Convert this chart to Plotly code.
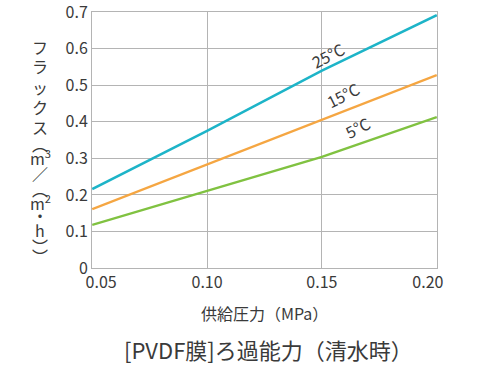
import plotly.graph_objects as go

pressure = [0.05, 0.10, 0.15, 0.20]
flux_25 = [0.216, 0.375, 0.540, 0.692]
flux_15 = [0.161, 0.284, 0.407, 0.528]
flux_5 = [0.118, 0.211, 0.304, 0.413]

series = [("25°C", flux_25, "#1db4c8"), ("15°C", flux_15, "#f5a642"), ("5°C", flux_5, "#80c241")]
label_pos = {"25°C": (0.1526, 0.582), "15°C": (0.159, 0.473), "5°C": (0.1657, 0.386)}

x_ticks = [0.05, 0.10, 0.15, 0.20]
x_tick_text = ["\u2007\u20070.05", "0.10", "0.15", "0.20\u2007\u2007"]
y_ticks = [0, 0.1, 0.2, 0.3, 0.4, 0.5, 0.6, 0.7]
y_tick_text = ["0", "0.1", "0.2", "0.3", "0.4", "0.5", "0.6", "0.7"]

y_title_chars = ["フ", "ラ", "ッ", "ク", "ス", "︵", "m<sup>3</sup>", "／", "︵", "m<sup>2</sup>", "・", "h", "︶", "︶"]
y_title_rows = [47, 66, 87, 107, 127, 144, 157, 173, 189, 202, 215, 230, 246, 256]

font = "Noto Sans CJK JP"
txt = "#3a3a3a"

# screen px -> paper coords (plot area: x 92..437, y 12..268 on screen)
def px(sx):
    return (sx - 92) / 345

def py(sy):
    return (268 - sy) / 256

fig = go.Figure()
for name, vals, col in series:
    fig.add_trace(go.Scatter(x=pressure, y=vals, mode="lines", name=name,
                             line=dict(color=col, width=2.5), showlegend=False))
    lx, ly = label_pos[name]
    fig.add_annotation(x=lx, y=ly, text=name, showarrow=False, textangle=-27,
                       xanchor="center", yanchor="middle",
                       font=dict(family=font, size=16, color=txt))

for ch, row in zip(y_title_chars, y_title_rows):
    fig.add_annotation(xref="paper", yref="paper", x=px(40), y=py(row), text=ch,
                       xanchor="center", yanchor="middle",
                       showarrow=False, font=dict(family=font, size=16, color=txt))

fig.add_annotation(xref="paper", yref="paper", x=px(264), y=py(313),
                   text="供給圧力（MPa）", showarrow=False,
                   xanchor="center", yanchor="middle",
                   font=dict(family=font, size=16, color=txt))
fig.add_annotation(xref="paper", yref="paper", x=px(268), y=py(349),
                   text="[PVDF膜]ろ過能力（清水時）", showarrow=False,
                   xanchor="center", yanchor="middle",
                   font=dict(family=font, size=22, color=txt))

axis_common = dict(showgrid=True, gridcolor="#b4b4b4", gridwidth=1,
                   showline=True, linecolor="#b4b4b4", mirror=True, zeroline=False,
                   ticks="", automargin=False, ticklabeloverflow="allow",
                   tickfont=dict(family=font, size=16, color=txt))
fig.update_xaxes(range=[0.0499, 0.2001], tickvals=x_ticks, ticktext=x_tick_text, **axis_common)
fig.update_yaxes(range=[0, 0.7005], tickvals=y_ticks, ticktext=y_tick_text, **axis_common)
fig.update_layout(width=486, height=365, margin=dict(l=92, r=49, t=12, b=97),
                  plot_bgcolor="white", paper_bgcolor="white")
fig.write_html("out.html", config={"displayModeBar": False},
               post_script="document.body.style.margin='0';")
